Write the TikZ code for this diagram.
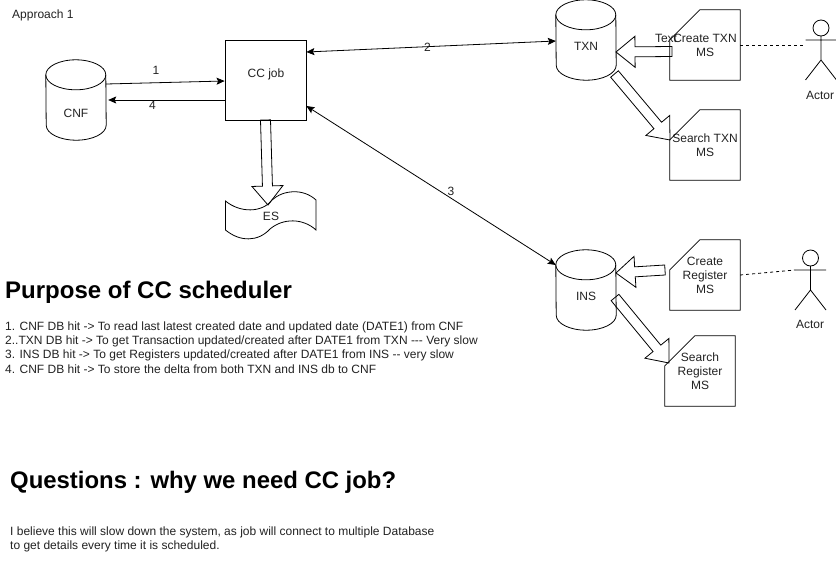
\documentclass[tikz,border=0pt]{standalone}
\usepackage{fontspec}
\setmainfont{Liberation Sans}
\usetikzlibrary{arrows.meta,calc}
\definecolor{ink}{HTML}{222222}
\tikzset{
  x=1pt,y=-1pt,
  every node/.style={text=ink,font=\fontsize{12}{14}\selectfont,inner sep=0pt},
  db/.style={minimum width=60pt,minimum height=80pt},
  boxnode/.style={draw=black,line width=.8pt,minimum width=81pt,minimum height=80pt},
  cardtext/.style={minimum width=70pt,minimum height=70pt,align=center},
  outline/.style={draw=black,line width=.8pt},
  flow/.style={draw=black,line width=.8pt,{Stealth[length=8pt,width=7pt,inset=1.5pt]}-{Stealth[length=8pt,width=7pt,inset=1.5pt]}},
  flowto/.style={draw=black,line width=.8pt,-{Stealth[length=8pt,width=7pt,inset=1.5pt]}},
  blockarrow/.style={draw=black,line width=.8pt,line join=miter},
  link/.style={draw=black,line width=.8pt,dashed,dash pattern=on 3pt off 3pt},
  figure/.style={draw=black,line width=.8pt},
  plain/.style={anchor=west,align=left},
  heading/.style={anchor=west,font=\bfseries\fontsize{24}{28}\selectfont,text=black},
}
\newcommand{\dboutline}[1]{%
  \draw[outline] ([yshift=-15pt]#1.north west) arc[start angle=180,end angle=0,x radius=30pt,y radius=15pt] -- ([yshift=15pt]#1.south east) arc[start angle=0,end angle=-180,x radius=30pt,y radius=15pt] -- cycle;
  \draw[outline] ([yshift=-15pt]#1.north west) arc[start angle=180,end angle=360,x radius=30pt,y radius=15pt];}
\newcommand{\cardoutline}[1]{\draw[outline] ([xshift=30pt]#1.north west) -- (#1.north east) -- (#1.south east) -- (#1.south west) -- ([yshift=-30pt]#1.north west) -- cycle;}
\newcommand{\blockconn}[2]{%
  \coordinate (hb) at ($(#2)!19pt!(#1)$);
  \draw[blockarrow] ($(#1)!5pt!90:(#2)$) -- ($(hb)!5pt!90:(#2)$) -- ($(hb)!15.5pt!90:(#2)$) -- (#2) -- ($(hb)!15.5pt!-90:(#2)$) -- ($(hb)!5pt!-90:(#2)$) -- ($(#1)!5pt!-90:(#2)$) -- cycle;}
\newcommand{\actorfig}[2]{%
  \draw[figure] (#1,#2) circle (8pt);
  \draw[figure] (#1,#2+8) -- (#1,#2+32) (#1-15.5,#2+12) -- (#1+15.5,#2+12) (#1-15.5,#2+52) -- (#1,#2+32) -- (#1+15.5,#2+52);}
\begin{document}
\begin{tikzpicture}
\useasboundingbox[fill=white] (0,0) rectangle (836,581);
\node[plain] (title) at (12,15) {Approach 1};

\node[db] (cnf) at (76,100) {};
\dboutline{cnf}
\node (cnflabel) at (76,113) {CNF};
\node[boxnode] (cc) at (265.5,80) {};
\node (cclabel) at (266,74) {CC job};
\node[db] (txn) at (586,40) {};
\dboutline{txn}
\node (txnlabel) at (586,46) {TXN};
\node[db] (ins) at (586,290) {};
\dboutline{ins}
\node (inslabel) at (586,296.5) {INS};

\node[cardtext] (ctxn) at (705,45) {Create TXN\\MS};
\node[cardtext] (stxn) at (705,145) {Search TXN\\MS};
\node[cardtext] (creg) at (705,275) {Create\\Register\\MS};
\node[cardtext] (sreg) at (700,371) {Search\\Register\\MS};
\cardoutline{ctxn}\cardoutline{stxn}\cardoutline{creg}\cardoutline{sreg}
\node (stray) at (666,38) {Text};

% ES tape
\draw[outline] (225.5,201) .. controls (240,213) and (262,213) .. (272,200) .. controls (283,190) and (303,188) .. (316,200) -- (316,230) .. controls (303,218) and (283,218) .. (270,229) .. controls (258,242) and (240,242) .. (225.5,230) -- cycle;
\node (es) at (271,216) {ES};

% thin connectors
\draw[flowto] ([yshift=16pt]cnf.east) -- ([yshift=-1pt]cc.west) node[pos=.42,yshift=12.5pt] (l1) {1};
\draw[flowto] ([yshift=-20pt]cc.west) -- ([xshift=2pt]cnf.east |- 0,100) node[pos=.62,yshift=-5pt] (l4) {4};
\draw[flow] ([yshift=28pt]cc.east) -- ([yshift=-1pt]txn.west) node[pos=.485,yshift=-1pt] (l2) {2};
\draw[flow] ([yshift=-26pt]cc.east) -- ([yshift=25pt]ins.west) node[pos=.58,yshift=6.5pt] (l3) {3};

% block arrows
\coordinate (ccbot) at (265.5,120);
\coordinate (estip) at (268,205);
\blockconn{ccbot}{estip}
\coordinate (ctail) at (672,51.5);
\coordinate (ctip) at (616,52);
\blockconn{ctail}{ctip}
\coordinate (stail) at (614.5,74);
\coordinate (stip) at (670,140);
\blockconn{stail}{stip}
\coordinate (rtail) at (665,270);
\coordinate (rtip) at (616,273);
\blockconn{rtail}{rtip}
\coordinate (qtail) at (615,297.5);
\coordinate (qtip) at (669,363);
\blockconn{qtail}{qtip}

% actors
\actorfig{821}{28}
\actorfig{810.5}{258}
\node (a1) at (820,95) {Actor};
\node (a2) at (810,324.5) {Actor};
\coordinate (arm1) at (805,45);
\coordinate (arm2) at (795,270);
\draw[link] (ctxn.east) -- (arm1);
\draw[link] (creg.east) -- (arm2);

% texts
\node[heading] (h1) at (5,292) {Purpose of CC scheduler};
\node[plain] (t1) at (5,327) {1. CNF DB hit -> To read last latest created date and updated date (DATE1) from CNF};
\node[plain] (t2) at (5,341) {2..TXN DB hit -> To get Transaction updated/created after DATE1 from TXN -{}-{}- Very slow};
\node[plain] (t3) at (5,355) {3. INS DB hit -> To get Registers updated/created after DATE1 from INS -{}- very slow};
\node[plain] (t4) at (5,369) {4. CNF DB hit -> To store the delta from both TXN and INS db to CNF};
\node[heading,font=\bfseries\fontsize{23.9}{28}\selectfont] (h2) at (10,482) {Questions : why we need CC job?};
\node[plain] (t5) at (10,532) {I believe this will slow down the system, as job will connect to multiple Database};
\node[plain] (t6) at (10,546) {to get details every time it is scheduled.};
\end{tikzpicture}
\end{document}
